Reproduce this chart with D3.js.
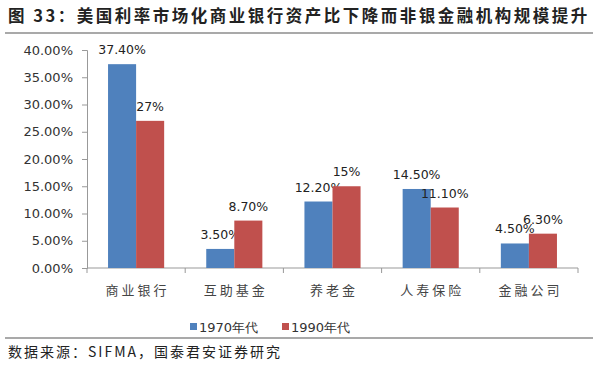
<!DOCTYPE html>
<html>
<head>
<meta charset="utf-8">
<script src="https://cdn.jsdelivr.net/npm/d3@7"></script>
<style>
  body { margin: 0; background: #fff; }
  svg { display: block; }
</style>
</head>
<body>
<div id="chart"></div>
<script>
// data
var categories = ["商业银行", "互助基金", "养老金", "人寿保险", "金融公司"];
var series = ["1970年代", "1990年代"];
var values1970 = [0.374, 0.035, 0.122, 0.145, 0.045];
var values1990 = [0.27, 0.087, 0.15, 0.111, 0.063];
var labels1970 = ["37.40%", "3.50%", "12.20%", "14.50%", "4.50%"];
var labels1990 = ["27%", "8.70%", "15%", "11.10%", "6.30%"];
var yTicks = [0, 0.05, 0.10, 0.15, 0.20, 0.25, 0.30, 0.35, 0.40];
var colors = ["#4f81bd", "#c0504d"];

var svgWidth = 600;
var svgHeight = 366;

var svg = d3.select("#chart")
  .append("svg")
  .attr("width", svgWidth)
  .attr("height", svgHeight);

var latin = "'DejaVu Sans', Verdana, sans-serif";
var cjk = "'Noto Sans CJK SC', sans-serif";

// title + rule
svg.append("text")
  .attr("x", 8)
  .attr("y", 22)
  .attr("font-family", cjk)
  .attr("font-weight", "bold")
  .attr("font-size", 16.5)
  .attr("letter-spacing", 2.5)
  .attr("fill", "#222")
  .text("图 33：美国利率市场化商业银行资产比下降而非银金融机构规模提升");

svg.append("line")
  .attr("x1", 5).attr("x2", 593)
  .attr("y1", 33).attr("y2", 33)
  .attr("stroke", "#555")
  .attr("stroke-width", 1.2);

// scales
var x0 = d3.scaleBand()
  .domain(categories)
  .range([87, 578])
  .paddingInner(0)
  .paddingOuter(0);

var x1 = d3.scaleBand()
  .domain(series)
  .range([0, x0.bandwidth()])
  .paddingInner(0)
  .paddingOuter(0.75);

var y = d3.scaleLinear()
  .domain([0, 0.4])
  .range([268, 50]);

// y axis
var leftAxis = d3.axisLeft(y)
  .tickValues(yTicks)
  .tickSize(5)
  .tickPadding(9)
  .tickFormat(d => (d * 100).toFixed(2) + "%");

var yAxis = svg.append("g")
  .attr("transform", "translate(87,0)")
  .call(leftAxis);
yAxis.select(".domain").attr("stroke", "#999");
yAxis.selectAll(".tick line").attr("stroke", "#999");
yAxis.selectAll(".tick text")
  .attr("font-family", latin)
  .attr("font-size", 13)
  .attr("fill", "#333");

// x axis with tick marks between categories
var xAxis = svg.append("g");
xAxis.append("line")
  .attr("x1", 87).attr("x2", 578)
  .attr("y1", y(0)).attr("y2", y(0))
  .attr("stroke", "#999");
var bounds = categories.map(c => x0(c)).concat([x0(categories[categories.length - 1]) + x0.bandwidth()]);
xAxis.selectAll("line.tk")
  .data(bounds)
  .enter()
  .append("line")
  .attr("class", "tk")
  .attr("x1", d => d).attr("x2", d => d)
  .attr("y1", y(0)).attr("y2", y(0) + 5)
  .attr("stroke", "#999");

xAxis.selectAll("text.cat")
  .data(categories)
  .enter()
  .append("text")
  .attr("class", "cat")
  .attr("x", d => x0(d) + x0.bandwidth() / 2 + 1.5)
  .attr("y", 295)
  .attr("text-anchor", "middle")
  .attr("font-family", cjk)
  .attr("font-size", 13)
  .attr("letter-spacing", 3)
  .attr("fill", "#444")
  .text(d => d);

// bars
var allSeries = [values1970, values1990];
var allLabels = [labels1970, labels1990];

series.forEach(function(s, i) {
  var rows = categories.map((c, j) => ({cat: c, v: allSeries[i][j], lab: allLabels[i][j]}));

  svg.selectAll("rect.s" + i)
    .data(rows)
    .enter()
    .append("rect")
    .attr("class", "s" + i)
    .attr("x", d => x0(d.cat) + x1(s))
    .attr("y", d => y(d.v))
    .attr("width", x1.bandwidth())
    .attr("height", d => y(0) - y(d.v))
    .attr("fill", colors[i]);

  svg.selectAll("text.l" + i)
    .data(rows)
    .enter()
    .append("text")
    .attr("class", "l" + i)
    .attr("x", d => x0(d.cat) + x1(s) + x1.bandwidth() / 2)
    .attr("y", d => y(d.v) - 10)
    .attr("text-anchor", "middle")
    .attr("font-family", latin)
    .attr("font-size", 12.5)
    .attr("fill", "#222")
    .text(d => d.lab);
});

// legend
var legendX = [190, 282];
var legend = svg.selectAll("g.legend")
  .data(series)
  .enter()
  .append("g")
  .attr("class", "legend")
  .attr("transform", (d, i) => `translate(${legendX[i]}, 327)`);

legend.append("rect")
  .attr("x", 0).attr("y", -4)
  .attr("width", 7).attr("height", 7)
  .attr("fill", (d, i) => colors[i]);

legend.append("text")
  .attr("x", 9)
  .attr("y", 4.5)
  .attr("font-family", latin)
  .attr("font-size", 13)
  .attr("fill", "#333")
  .text(d => d);

// bottom rule + source
svg.append("line")
  .attr("x1", 5).attr("x2", 593)
  .attr("y1", 338).attr("y2", 338)
  .attr("stroke", "#555")
  .attr("stroke-width", 1.2);

svg.append("text")
  .attr("x", 8)
  .attr("y", 357)
  .attr("font-family", cjk)
  .attr("font-size", 14)
  .attr("letter-spacing", 2)
  .attr("fill", "#222")
  .text("数据来源：SIFMA，国泰君安证券研究");
</script>
</body>
</html>
